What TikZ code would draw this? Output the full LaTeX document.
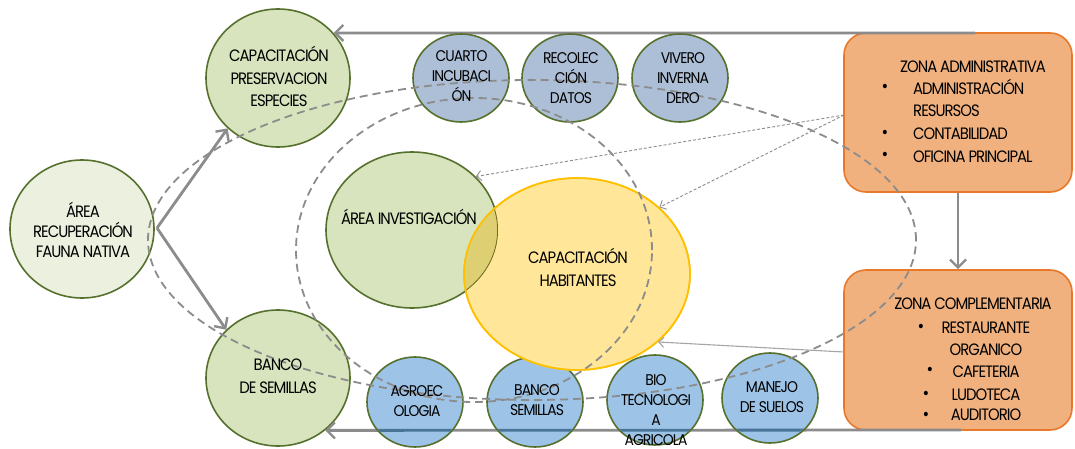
\documentclass[tikz,border=0pt]{standalone}
\usepackage{fontspec}
\newfontfamily\cgfont{Poppins}[FakeStretch=0.9,LetterSpace=-6]
\usetikzlibrary{shapes.geometric,arrows.meta}
\definecolor{olivebd}{HTML}{56702E}
\definecolor{gfill}{HTML}{D7E4BD}
\definecolor{gpale}{HTML}{EBF1DE}
\definecolor{bgray}{HTML}{ADBFD7}
\definecolor{bblue}{HTML}{9DC3E6}
\definecolor{ofill}{HTML}{F0B17F}
\definecolor{obd}{HTML}{E8782A}
\definecolor{yfill}{HTML}{FFE699}
\definecolor{ybd}{HTML}{FFC000}
\definecolor{ovl}{HTML}{DDCF72}
\definecolor{ovlbd}{HTML}{6B6A20}
\definecolor{agray}{HTML}{8C8C8C}
\definecolor{lgray}{HTML}{A6A6A6}
\definecolor{lineblue}{HTML}{4A7398}
\tikzset{
  bigtxt/.style={font=\cgfont\fontsize{16.5}{22.5}\selectfont, align=center, inner sep=0pt, text=black},
  tighttxt/.style={font=\cgfont\fontsize{16.5}{20}\selectfont, align=center, inner sep=0pt, text=black},
  smalltxt/.style={font=\cgfont\fontsize{15.5}{20}\selectfont, align=center, inner sep=0pt, text=black},
  gcirc/.style={ellipse, draw=olivebd, line width=1.6pt, fill=gfill, inner sep=0pt, minimum width=144pt, minimum height=138pt},
  tcirc/.style={ellipse, draw=olivebd, line width=1.6pt, fill=bgray, inner sep=0pt, minimum width=96pt, minimum height=88pt},
  bcirc/.style={ellipse, draw=olivebd, line width=1.6pt, fill=bblue, inner sep=0pt, minimum width=96pt, minimum height=90pt},
  obox/.style={rectangle, rounded corners=22pt, draw=obd, line width=1.6pt, fill=ofill, inner sep=0pt, minimum width=228pt},
  thick arrow/.style={draw=agray, line width=2.8pt, -{Straight Barb[length=8pt,width=16pt,line width=2.4pt]}},
  thin dashed arrow/.style={draw=agray, line width=0.9pt, dash pattern=on 3pt off 2pt, -{Straight Barb[length=5pt,width=10pt,line width=0.9pt]}},
  thin arrow/.style={draw=lgray, line width=1.1pt, -{Straight Barb[length=5pt,width=10pt,line width=1.1pt]}},
  ring/.style={draw=agray, line width=1.8pt, dash pattern=on 8pt off 5pt},
  bul/.style={font=\cgfont\fontsize{18}{18}\selectfont, inner sep=0pt}
}
\begin{document}
\begin{tikzpicture}[x=1pt,y=-1pt]
\useasboundingbox (0,0) rectangle (1075,449);
\fill[white] (0,0) rectangle (1075,449);

% orange boxes
\node[obox, minimum height=159pt] (zadm) at (958,112.5) {};
\node[obox, minimum height=160pt] (zcomp) at (958,350) {};

% long connectors (under circles)
\coordinate (topstart) at (975,33);
\coordinate (botstart) at (961,430);

% green circles
\node[gcirc] (cpe) at (278,78) {};
\node[gcirc, fill=gpale] (arf) at (82,229) {};
\node[gcirc, minimum height=136pt] (bds) at (278,378) {};

\draw[thick arrow] (topstart) -- (cpe.39);
\draw[thick arrow] (botstart) -- (bds.-48.5);

% small top circles
\node[tcirc] (cuarto) at (461,78) {};
\node[tcirc] (recol) at (570,78) {};
\node[tcirc] (vivero) at (680,78) {};

% bottom circles
\node[bcirc] (agro) at (415,402) {};
\node[bcirc] (bsem) at (535,402) {};
\node[bcirc] (bio) at (655,400) {};
\node[bcirc] (manejo) at (770,398) {};
\begin{scope}
\clip (415,402) ellipse [x radius=47pt, y radius=44pt]
      (535,402) ellipse [x radius=47pt, y radius=44pt]
      (655,400) ellipse [x radius=47pt, y radius=44pt]
      (770,398) ellipse [x radius=47pt, y radius=44pt];
\draw[lineblue, line width=2.8pt] (botstart) -- (bds.-48.5);
\end{scope}

% investigation and yellow circles
\node[gcirc, minimum width=172pt, minimum height=156pt] (ainv) at (412,230) {};
\node[ellipse, fill=yfill, draw=ybd, line width=1.6pt, inner sep=0pt, minimum width=226pt, minimum height=192pt] (ycap) at (577,274) {};
\begin{scope}
\clip (412,230) ellipse [x radius=86pt, y radius=78pt];
\fill[ovl] (577,274) ellipse [x radius=113pt, y radius=96pt];
\clip (577,274) ellipse [x radius=113pt, y radius=96pt];
\draw[ovlbd, line width=1.6pt] (412,230) ellipse [x radius=86pt, y radius=78pt];
\end{scope}
\draw[ybd, line width=1.6pt] (577,274) ellipse [x radius=113pt, y radius=96pt];

% dashed rings
\draw[ring] (532,240) ellipse [x radius=384pt, y radius=160pt];
\draw[ring] (474,250) ellipse [x radius=178pt, y radius=152pt];

% arrows
\coordinate (fork) at (157,228);
\draw[thick arrow] (fork) -- (cpe.225);
\draw[thick arrow] (fork) -- (bds.137);
\draw[thick arrow] (zadm.south) -- (zcomp.north);
\coordinate (za) at (844,115);
\coordinate (zc) at (844,352);
\draw[thin dashed arrow] (za) -- (ainv.40);
\draw[thin dashed arrow] (za) -- (ycap.39);
\draw[thin arrow] (zc) -- (ycap.-40);

% texts in circles
\node[bigtxt] (tcpe) at (279,76.5) {CAPACITACIÓN\\PRESERVACION\\ESPECIES};
\node[tighttxt] (tarf) at (83,229.5) {ÁREA\\RECUPERACIÓN\\FAUNA NATIVA};
\node[bigtxt] (tbds) at (278,376) {BANCO\\DE SEMILLAS};
\node[smalltxt] (tcuarto) at (461.5,76.5) {CUARTO\\INCUBACI\\ÓN};
\node[smalltxt] (trecol) at (571,78) {RECOLEC\\CIÓN\\DATOS};
\node[smalltxt] (tvivero) at (683,78) {VIVERO\\INVERNA\\DERO};
\node[smalltxt] (tagro) at (417,401.3) {AGROEC\\OLOGIA};
\node[smalltxt] (tbsem) at (537,400.3) {BANCO\\SEMILLAS};
\node[smalltxt] (tbio) at (656,409.6) {BIO\\TECNOLOGI\\A\\AGRICOLA};
\node[smalltxt] (tmanejo) at (772,397) {MANEJO\\DE SUELOS};
\node[bigtxt, anchor=base] (tainv) at (409,224) {ÁREA INVESTIGACIÓN};
\node[bigtxt] (tycap) at (578,267.5) {CAPACITACIÓN\\HABITANTES};

% box 1 text
\node[bigtxt, anchor=base] (za0) at (973,72.3) {ZONA ADMINISTRATIVA};
\node[bul] (zb1) at (885,88.5) {\textbullet};
\node[bigtxt, anchor=base west] (za1) at (913,95) {ADMINISTRACIÓN};
\node[bigtxt, anchor=base west] (za2) at (913,116.7) {RESURSOS};
\node[bul] (zb3) at (885,134) {\textbullet};
\node[bigtxt, anchor=base west] (za3) at (913,140) {CONTABILIDAD};
\node[bul] (zb4) at (885,156) {\textbullet};
\node[bigtxt, anchor=base west] (za4) at (913,162.3) {OFICINA PRINCIPAL};

% box 2 text
\node[bigtxt, anchor=base] (zc0) at (973,309) {ZONA COMPLEMENTARIA};
\node[bul] (zd1) at (921,328.5) {\textbullet};
\node[bigtxt, anchor=base] (zc1) at (986,333.3) {RESTAURANTE};
\node[bigtxt, anchor=base] (zc2) at (986,355) {ORGANICO};
\node[bul] (zd3) at (930,371.5) {\textbullet};
\node[bigtxt, anchor=base] (zc3) at (986,377) {CAFETERIA};
\node[bul] (zd4) at (926,395) {\textbullet};
\node[bigtxt, anchor=base] (zc4) at (986,400) {LUDOTECA};
\node[bul] (zd5) at (926,416) {\textbullet};
\node[bigtxt, anchor=base] (zc5) at (986,420.7) {AUDITORIO};
\end{tikzpicture}
\end{document}
